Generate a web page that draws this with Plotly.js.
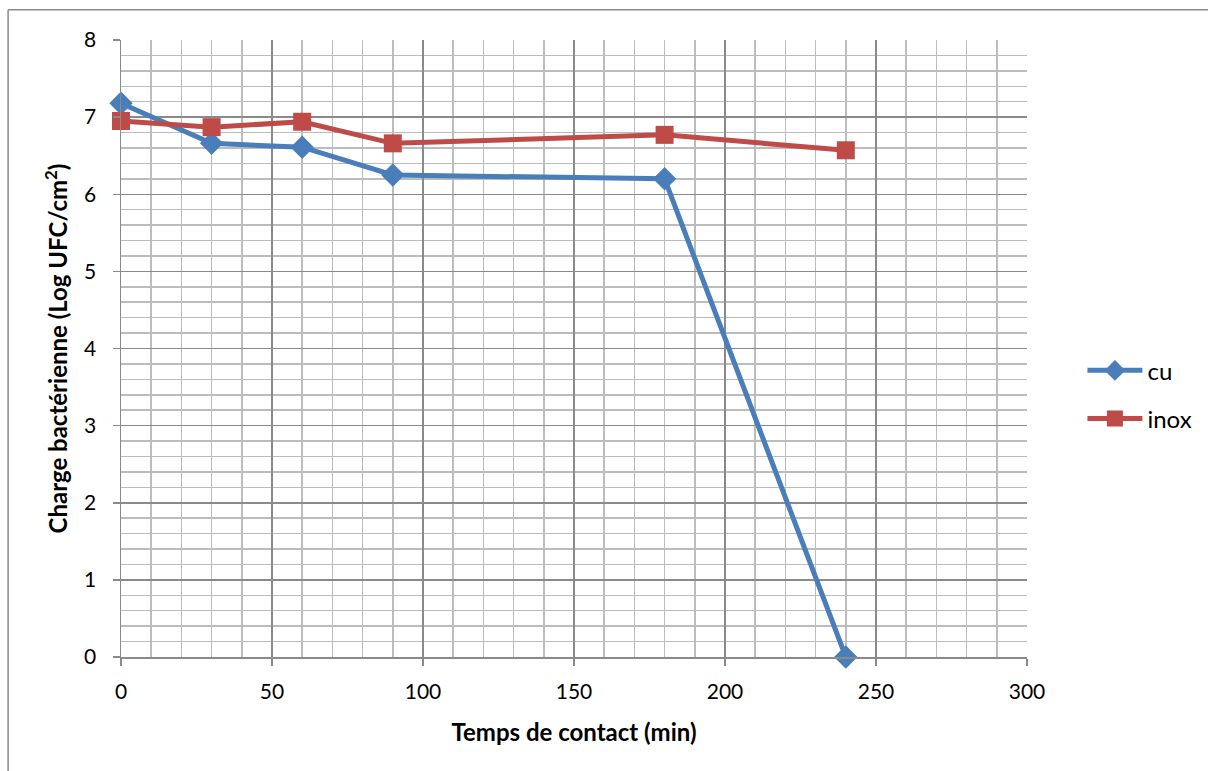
<!DOCTYPE html>
<html>
<head>
<meta charset="utf-8">
<script src="https://cdn.plot.ly/plotly-3.0.1.min.js"></script>
<style>html,body{margin:0;padding:0;background:#fff;}#chart{width:1208px;height:771px;}</style>
</head>
<body>
<div id="chart"></div>
<script>
const times = [0, 30, 60, 90, 180, 240];
const cuValues = [7.18, 6.66, 6.61, 6.25, 6.20, 0];
const inoxValues = [6.95, 6.87, 6.94, 6.66, 6.77, 6.57];
const seriesNames = ["cu", "inox"];
const xTitle = "Temps de contact (min)";
const yTitle = "Charge bactérienne (Log UFC/cm<sup>2</sup>)";

const font = "Lato, 'Open Sans', sans-serif";
const traces = [
  {x: times, y: cuValues, name: seriesNames[0], legendgroup: "a", mode: "lines+markers", cliponaxis: false,
   line: {color: "#4a7ebb", width: 5}, marker: {symbol: "diamond", size: 18, color: "#4a7ebb"}},
  {x: times, y: inoxValues, name: seriesNames[1], legendgroup: "b", mode: "lines+markers", cliponaxis: false,
   line: {color: "#be4b48", width: 5}, marker: {symbol: "square", size: 18, color: "#be4b48"}}
];
const layout = {
  width: 1208, height: 771,
  margin: {l: 121, r: 180, t: 40, b: 114},
  paper_bgcolor: "#fff", plot_bgcolor: "#fff",
  font: {family: font, size: 21, color: "#000"},
  showlegend: true,
  legend: {x: 1.06, y: 0.425, xanchor: "left", yanchor: "middle", font: {size: 24},
           traceorder: "grouped", tracegroupgap: 14, itemwidth: 55},
  xaxis: {
    range: [0, 300], tickmode: "linear", tick0: 0, dtick: 50,
    showgrid: true, gridcolor: "#8a8a8a", gridwidth: 1.5,
    minor: {dtick: 10, showgrid: true, gridcolor: "#bcbcbc", gridwidth: 1.5},
    ticks: "outside", ticklen: 7, tickcolor: "#8a8a8a", tickwidth: 1.5,
    showline: true, linecolor: "#8a8a8a", linewidth: 1.5, zeroline: false,
    tickfont: {size: 21}, ticklabelstandoff: 8,
    title: {text: "<b>" + xTitle + "</b>", font: {size: 24}, standoff: 22}
  },
  yaxis: {
    range: [0, 8], tickmode: "linear", tick0: 0, dtick: 1,
    showgrid: true, gridcolor: "#8a8a8a", gridwidth: 1.5,
    minor: {dtick: 0.2, showgrid: true, gridcolor: "#bcbcbc", gridwidth: 1.5},
    ticks: "outside", ticklen: 7, tickcolor: "#8a8a8a", tickwidth: 1.5,
    showline: true, linecolor: "#8a8a8a", linewidth: 1.5, zeroline: false,
    tickfont: {size: 21}, ticklabelstandoff: 12,
    title: {text: "<b>" + yTitle + "</b>", font: {size: 24}, standoff: 9}
  },
  shapes: [
    {type: "line", xref: "paper", yref: "paper", x0: -0.1246, x1: 1.2, y0: 1.049, y1: 1.049, line: {color: "#8a8a8a", width: 1.5}},
    {type: "line", xref: "paper", yref: "paper", x0: -0.1246, x1: -0.1246, y0: 1.049, y1: -0.19, line: {color: "#8a8a8a", width: 1.5}}
  ]
};
Plotly.newPlot("chart", traces, layout, {displayModeBar: false, staticPlot: true});
</script>
</body>
</html>
